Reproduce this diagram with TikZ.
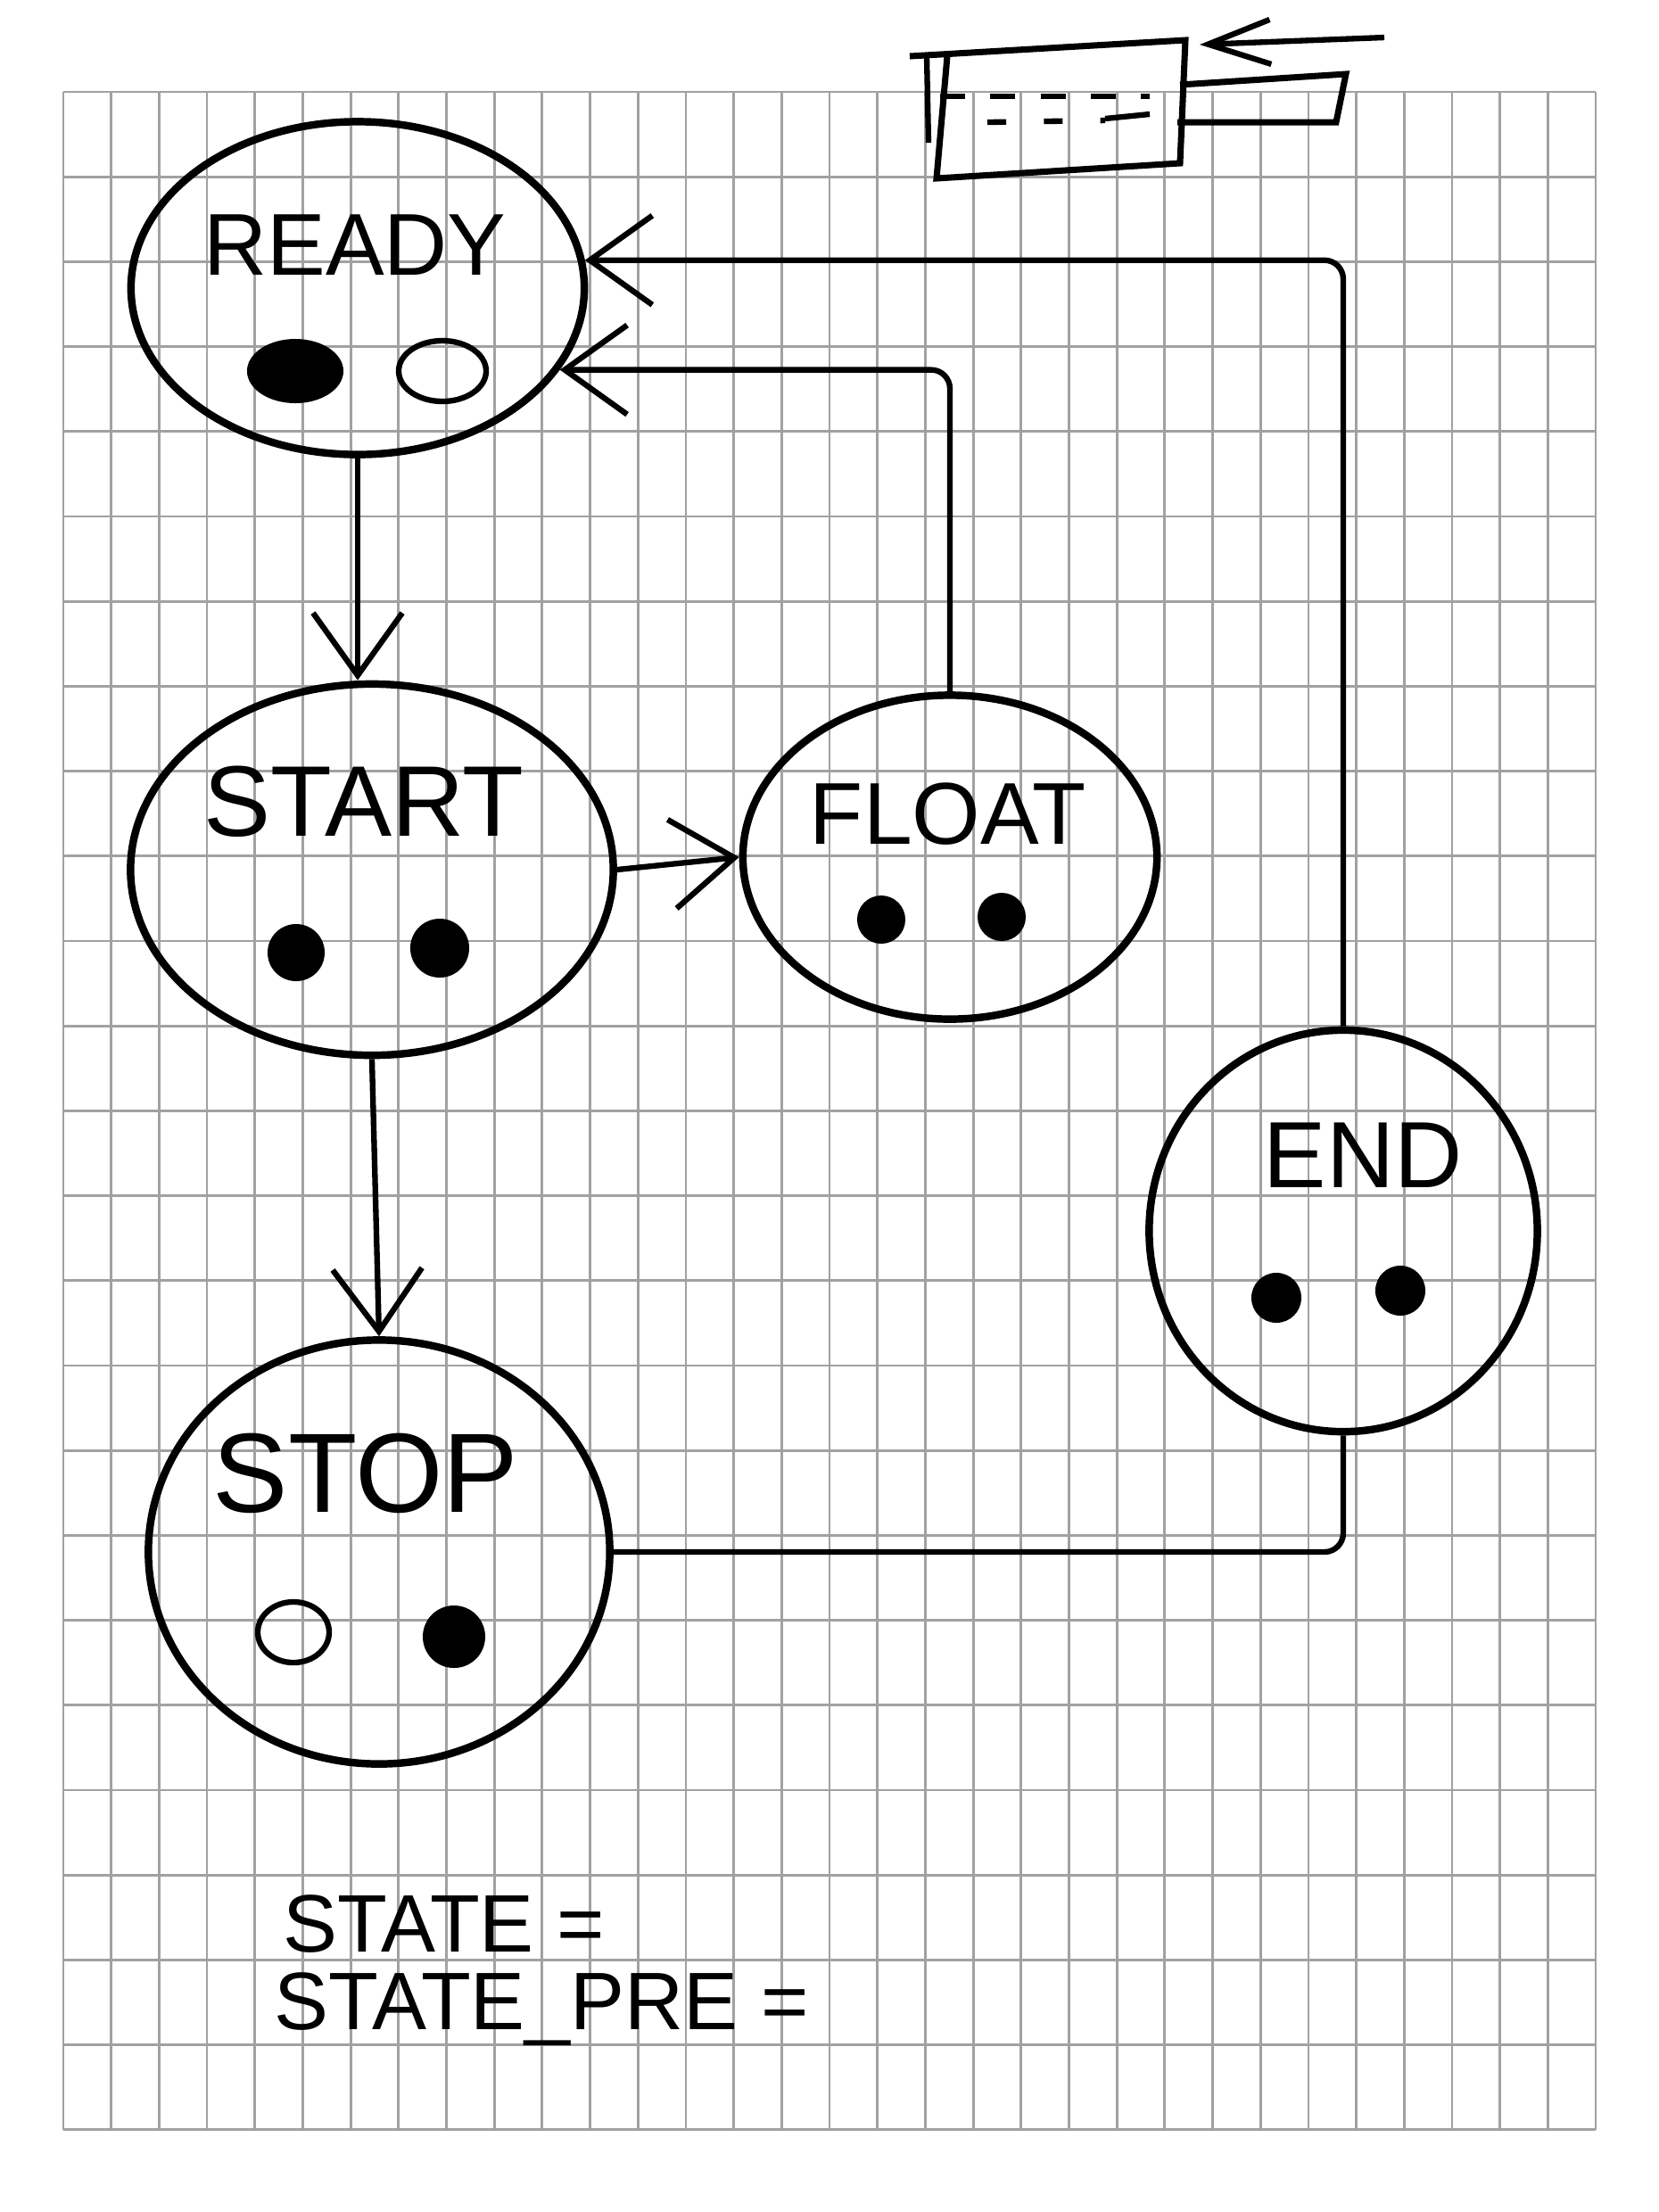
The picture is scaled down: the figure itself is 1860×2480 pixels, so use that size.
\documentclass[tikz,border=0pt]{standalone}
\usepackage{fontspec}
\setmainfont{Liberation Sans}
\usetikzlibrary{shapes.geometric,arrows.meta}

\begin{document}
\begin{tikzpicture}[x=0.01cm, y=-0.01cm, >={Straight Barb[length=7mm,width=10mm]},
		gridline/.style={draw=black!37, line width=0.8pt},
		state/.style={draw, ellipse, line width=2.4pt, inner sep=0pt},
		edge/.style={line width=1.8pt, rounded corners=6pt},
		lbl/.style={font=\fontsize{#1}{#1}\selectfont, inner sep=0pt},
		hole/.style={line width=1.8pt}]
		\useasboundingbox (0,0) rectangle (1860,2480);
		% squared paper
		\foreach \i in {0,...,32}
			\draw[gridline] ({71+53.69*\i},103) -- ++(0,2285);
		\foreach \j in {0,...,24}
			\draw[gridline] (71,{103+95.2*\j}) -- ++(1718,0);

		\node[state, minimum width=5.08cm, minimum height=3.73cm] (ready) at (401,323) {};
		\node[state, minimum width=5.41cm, minimum height=4.16cm] (start) at (417,975) {};
		\node[state, minimum width=4.64cm, minimum height=3.63cm] (float) at (1065,961) {};
		\node[state, minimum width=4.35cm, minimum height=4.5cm] (finish) at (1506,1380) {};
		\node[state, minimum width=5.17cm, minimum height=4.75cm] (stop) at (425,1740) {};

		\node[lbl=28] (readytxt) at (398,275) {READY};
		\node[lbl=32] (starttxt) at (408,899) {START};
		\node[lbl=28] (floattxt) at (1063,913) {FLOAT};
		\node[lbl=30] (endtxt) at (1528,1295) {END};
		\node[lbl=36] (stoptxt) at (410,1652) {STOP};

		% the two lamps of each state
		\fill (331,416) ellipse [x radius=0.54cm, y radius=0.36cm];
		\draw[hole] (496,416) ellipse [x radius=0.49cm, y radius=0.34cm];
		\fill (332,1068) circle [radius=0.32cm];
		\fill (493,1063) circle [radius=0.33cm];
		\fill (988,1031) circle [radius=0.27cm];
		\fill (1123,1028) circle [radius=0.27cm];
		\fill (1431,1455) circle [radius=0.28cm];
		\fill (1570,1447) circle [radius=0.28cm];
		\draw[hole] (329,1830) ellipse [x radius=0.4cm, y radius=0.34cm];
		\fill (509,1835) circle [radius=0.35cm];

		\draw[->, edge] (ready.south) -- (ready.south |- start.north);
		\draw[->, edge] (start.south) -- (stop.north);
		\draw[->, edge] (start.east) -- (float.west);
		\draw[->, edge] (float.north) |- (ready.-22);
		\draw[edge] (stop.east) -| (finish.south);
		\draw[->, edge] (finish.north) |- (ready.7);

		\node[lbl=26, anchor=west] (state) at (317,2157) {STATE =};
		\node[lbl=26, anchor=west] (statepre) at (307,2253) {STATE\_PRE =};

		% little box up right
		\draw[line width=2pt] (1020,63) -- (1329,45) -- (1323,183) -- (1050,200) -- (1062,63);
		\draw[hole] (1039,63) -- (1041,160);
		\draw[hole, dash pattern=on 8pt off 8pt] (1054,108) -- (1289,108);
		\draw[hole, dash pattern=on 6pt off 12pt] (1107,137) -- (1239,135);
		\draw[hole] (1239,133) -- (1289,128);
		\draw[line width=2pt] (1323,95) -- (1509,83) -- (1498,137) -- (1320,137);
		\draw[-{Straight Barb[length=7mm,width=5mm]}, hole] (1552,42) -- (1345,50);
\end{tikzpicture}
\end{document}
